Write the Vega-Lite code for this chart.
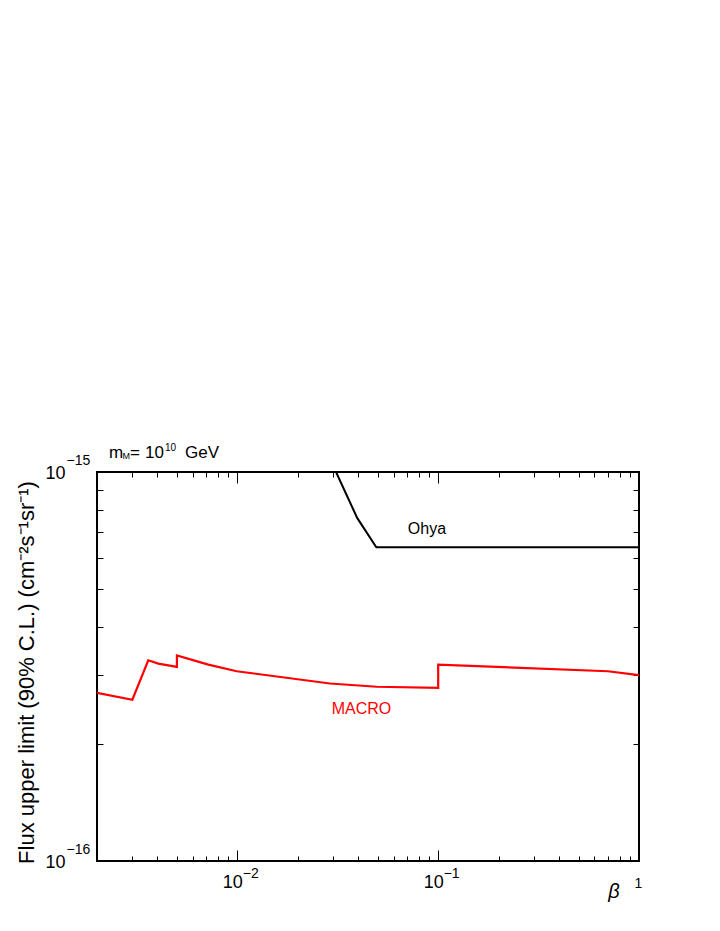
{
  "$schema": "https://vega.github.io/schema/vega-lite/v6.json",
  "width": 542,
  "height": 389,
  "autosize": {"type": "none"},
  "padding": {"left": 97, "top": 472, "right": 81, "bottom": 70},
  "background": "white",
  "config": {
    "view": {"stroke": "black", "strokeWidth": 2},
    "font": "Liberation Sans",
    "axis": {"domain": false, "grid": false, "tickColor": "black", "tickWidth": 1, "labelColor": "black", "labelFont": "Liberation Sans", "titleFont": "Liberation Sans", "titleColor": "black", "titleFontWeight": "normal"},
    "text": {"font": "Liberation Sans"}
  },
  "datasets": {
    "macro": [
      {"i": 0, "beta": 0.002, "flux": 2.705e-16},
      {"i": 1, "beta": 0.003, "flux": 2.597e-16},
      {"i": 2, "beta": 0.0036, "flux": 3.281e-16},
      {"i": 3, "beta": 0.00404, "flux": 3.217e-16},
      {"i": 4, "beta": 0.005, "flux": 3.155e-16},
      {"i": 5, "beta": 0.005, "flux": 3.374e-16},
      {"i": 6, "beta": 0.00717, "flux": 3.198e-16},
      {"i": 7, "beta": 0.00993, "flux": 3.075e-16},
      {"i": 8, "beta": 0.0289, "flux": 2.86e-16},
      {"i": 9, "beta": 0.0494, "flux": 2.805e-16},
      {"i": 10, "beta": 0.1, "flux": 2.788e-16},
      {"i": 11, "beta": 0.1, "flux": 3.198e-16},
      {"i": 12, "beta": 0.7, "flux": 3.075e-16},
      {"i": 13, "beta": 1, "flux": 3.003e-16}
    ],
    "ohya": [
      {"i": 0, "beta": 0.031, "flux": 1e-15},
      {"i": 1, "beta": 0.0395, "flux": 7.62e-16},
      {"i": 2, "beta": 0.0492, "flux": 6.405e-16},
      {"i": 3, "beta": 1, "flux": 6.405e-16}
    ],
    "labels": [
      {"beta": 0.0879, "flux": 6.91e-16, "label": "Ohya", "series": "ohya"},
      {"beta": 0.0415, "flux": 2.393e-16, "label": "MACRO", "series": "macro"}
    ]
  },
  "resolve": {"axis": {"x": "independent", "y": "independent"}},
  "layer": [
    {
      "data": {"name": "macro"},
      "mark": {"type": "line", "color": "#ff0000", "strokeWidth": 2.2, "clip": true},
      "encoding": {
        "x": {"field": "beta", "type": "quantitative", "scale": {"type": "log", "domain": [0.002, 1], "nice": false},
          "axis": {"orient": "bottom", "values": [0.002, 0.003, 0.004, 0.005, 0.006, 0.007, 0.008, 0.009, 0.02, 0.03, 0.04, 0.05, 0.06, 0.07, 0.08, 0.09, 0.2, 0.3, 0.4, 0.5, 0.6, 0.7, 0.8, 0.9], "tickSize": -5, "labels": false, "title": null}},
        "y": {"field": "flux", "type": "quantitative", "scale": {"type": "log", "domain": [1e-16, 1e-15], "nice": false},
          "axis": {"orient": "left", "values": [2e-16, 3e-16, 4e-16, 5e-16, 6e-16, 7e-16, 8e-16, 9e-16], "tickSize": -6, "labels": false,
            "title": "Flux upper limit (90% C.L.) (cm⁻²s⁻¹sr⁻¹)", "titleFontSize": 22, "titlePadding": 58, "titleY": 200}},
        "order": {"field": "i", "type": "quantitative"}
      }
    },
    {
      "data": {"name": "ohya"},
      "mark": {"type": "line", "color": "black", "strokeWidth": 2, "clip": true},
      "encoding": {
        "x": {"field": "beta", "type": "quantitative", "scale": {"type": "log", "domain": [0.002, 1], "nice": false},
          "axis": {"orient": "bottom", "values": [0.01, 0.1], "tickSize": -11, "labels": false, "title": null}},
        "y": {"field": "flux", "type": "quantitative", "scale": {"type": "log", "domain": [1e-16, 1e-15], "nice": false},
          "axis": {"orient": "right", "values": [2e-16, 3e-16, 4e-16, 5e-16, 6e-16, 7e-16, 8e-16, 9e-16], "tickSize": -6, "labels": false, "title": null}},
        "order": {"field": "i", "type": "quantitative"}
      }
    },
    {
      "data": {"name": "labels"},
      "transform": [{"filter": "datum.series == 'ohya'"}],
      "mark": {"type": "text", "fontSize": 16, "align": "center", "baseline": "alphabetic", "color": "black"},
      "encoding": {
        "x": {"field": "beta", "type": "quantitative", "scale": {"type": "log", "domain": [0.002, 1], "nice": false},
          "axis": {"orient": "top", "values": [0.003, 0.004, 0.005, 0.006, 0.007, 0.008, 0.009, 0.02, 0.03, 0.04, 0.05, 0.06, 0.07, 0.08, 0.09, 0.2, 0.3, 0.4, 0.5, 0.6, 0.7, 0.8, 0.9], "tickSize": -5, "labels": false, "title": null}},
        "y": {"field": "flux", "type": "quantitative", "scale": {"type": "log", "domain": [1e-16, 1e-15], "nice": false},
          "axis": {"orient": "left", "values": [1e-16, 1e-15], "ticks": false, "tickSize": 0, "labelExpr": "'10'", "labelFontSize": 18, "labelAlign": "right", "labelBaseline": "alphabetic", "labelPadding": 32, "labelOffset": 6, "labelFlush": false, "labelOverlap": false, "title": null}},
        "text": {"field": "label"}
      }
    },
    {
      "data": {"name": "labels"},
      "transform": [{"filter": "datum.series == 'macro'"}],
      "mark": {"type": "text", "fontSize": 16, "align": "center", "baseline": "alphabetic", "color": "#ff0000"},
      "encoding": {
        "x": {"field": "beta", "type": "quantitative", "scale": {"type": "log", "domain": [0.002, 1], "nice": false},
          "axis": {"orient": "top", "values": [0.01, 0.1], "tickSize": -11, "labels": false, "title": null}},
        "y": {"field": "flux", "type": "quantitative", "scale": {"type": "log", "domain": [1e-16, 1e-15], "nice": false},
          "axis": {"orient": "left", "values": [1e-16, 1e-15], "ticks": false, "tickSize": 0, "labelExpr": "datum.value > 5e-16 ? '−15' : '−16'", "labelFontSize": 14, "labelAlign": "left", "labelBaseline": "alphabetic", "labelPadding": 31, "labelOffset": -8, "labelFlush": false, "labelOverlap": false, "title": null}},
        "text": {"field": "label"}
      }
    },
    {
      "data": {"values": [{}]},
      "mark": {"type": "text", "text": "m", "fontSize": 17, "align": "left", "baseline": "alphabetic", "dx": 12, "dy": -14, "color": "black"},
      "encoding": {
        "x": {"datum": 0.002, "type": "quantitative", "scale": {"type": "log", "domain": [0.002, 1], "nice": false},
          "axis": {"orient": "bottom", "values": [0.01, 0.1], "ticks": false, "tickSize": 0, "labelExpr": "'10'", "labelFontSize": 18, "labelAlign": "center", "labelBaseline": "alphabetic", "labelPadding": 26, "labelOffset": -5, "labelFlush": false, "labelOverlap": false, "title": null}},
        "y": {"datum": 1e-15, "type": "quantitative", "scale": {"type": "log", "domain": [1e-16, 1e-15], "nice": false}, "axis": null}
      }
    },
    {
      "data": {"values": [{}]},
      "mark": {"type": "text", "text": "M", "fontSize": 9, "align": "left", "baseline": "alphabetic", "dx": 25.5, "dy": -13, "color": "black"},
      "encoding": {
        "x": {"datum": 0.002, "type": "quantitative", "scale": {"type": "log", "domain": [0.002, 1], "nice": false},
          "axis": {"orient": "bottom", "values": [0.01, 0.1], "ticks": false, "tickSize": 0, "labelExpr": "datum.value < 0.05 ? '−2' : '−1'", "labelFontSize": 14, "labelAlign": "left", "labelBaseline": "alphabetic", "labelPadding": 16, "labelOffset": 5, "labelFlush": false, "labelOverlap": false, "title": null}},
        "y": {"datum": 1e-15, "type": "quantitative", "scale": {"type": "log", "domain": [1e-16, 1e-15], "nice": false}, "axis": null}
      }
    },
    {
      "data": {"values": [{}]},
      "mark": {"type": "text", "text": "=", "fontSize": 17, "align": "left", "baseline": "alphabetic", "dx": 33, "dy": -14, "color": "black"},
      "encoding": {
        "x": {"datum": 0.002, "type": "quantitative", "scale": {"type": "log", "domain": [0.002, 1], "nice": false},
          "axis": {"orient": "bottom", "values": [1], "ticks": false, "tickSize": 0, "labelExpr": "'1'", "labelFontSize": 14, "labelAlign": "center", "labelBaseline": "alphabetic", "labelPadding": 26, "labelOffset": -1, "labelFlush": false, "labelOverlap": false,
            "title": "β", "titleFontSize": 20, "titleFontStyle": "italic", "titleX": 516.5, "titleY": 36, "titleAlign": "center", "titleBaseline": "alphabetic"}},
        "y": {"datum": 1e-15, "type": "quantitative", "scale": {"type": "log", "domain": [1e-16, 1e-15], "nice": false}, "axis": null}
      }
    },
    {
      "data": {"values": [{}]},
      "mark": {"type": "text", "text": "10", "fontSize": 17, "align": "left", "baseline": "alphabetic", "dx": 48, "dy": -14, "color": "black"},
      "encoding": {
        "x": {"datum": 0.002, "type": "quantitative", "scale": {"type": "log", "domain": [0.002, 1], "nice": false}, "axis": null},
        "y": {"datum": 1e-15, "type": "quantitative", "scale": {"type": "log", "domain": [1e-16, 1e-15], "nice": false}, "axis": null}
      }
    },
    {
      "data": {"values": [{}]},
      "mark": {"type": "text", "text": "10", "fontSize": 10, "align": "left", "baseline": "alphabetic", "dx": 68, "dy": -21, "color": "black"},
      "encoding": {
        "x": {"datum": 0.002, "type": "quantitative", "scale": {"type": "log", "domain": [0.002, 1], "nice": false}, "axis": null},
        "y": {"datum": 1e-15, "type": "quantitative", "scale": {"type": "log", "domain": [1e-16, 1e-15], "nice": false}, "axis": null}
      }
    },
    {
      "data": {"values": [{}]},
      "mark": {"type": "text", "text": "GeV", "fontSize": 17, "align": "left", "baseline": "alphabetic", "dx": 88, "dy": -14, "color": "black"},
      "encoding": {
        "x": {"datum": 0.002, "type": "quantitative", "scale": {"type": "log", "domain": [0.002, 1], "nice": false}, "axis": null},
        "y": {"datum": 1e-15, "type": "quantitative", "scale": {"type": "log", "domain": [1e-16, 1e-15], "nice": false}, "axis": null}
      }
    }
  ]
}
